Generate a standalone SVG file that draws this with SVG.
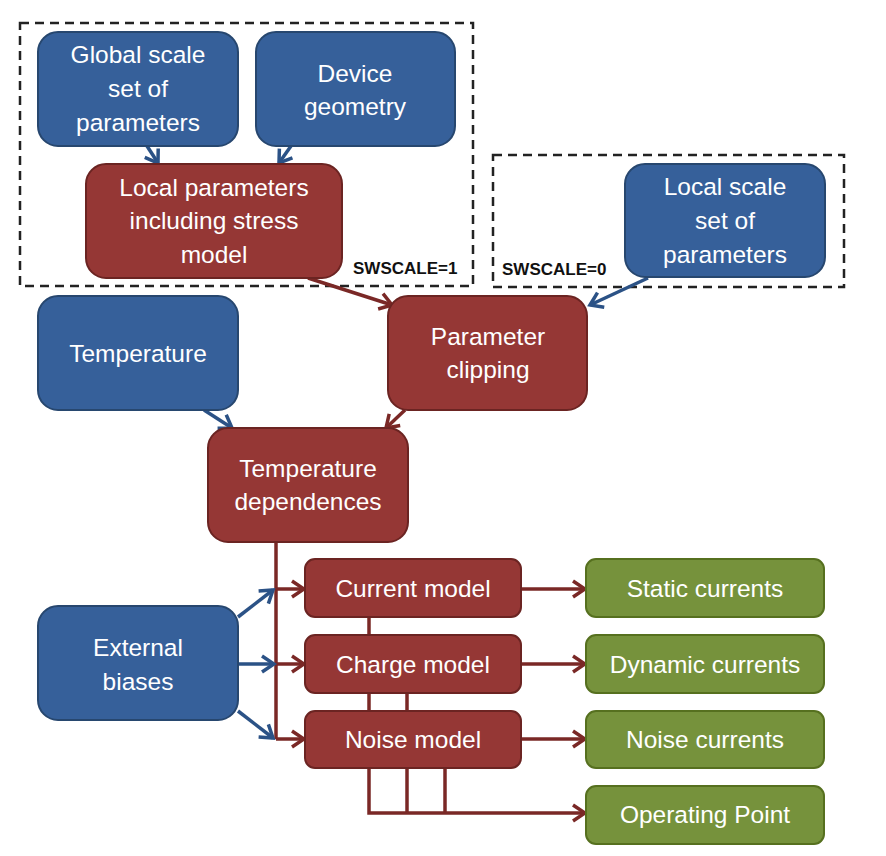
<svg xmlns="http://www.w3.org/2000/svg" width="886" height="856" viewBox="0 0 886 856">
<defs>
<style>
.b{fill:#36609A;stroke:#27476F;stroke-width:2}
.r{fill:#953735;stroke:#6B2422;stroke-width:2}
.g{fill:#76923C;stroke:#56701F;stroke-width:2}
.t{font-family:"Liberation Sans",Arial,sans-serif;font-size:24.5px;fill:#fff;text-anchor:middle}
.sw{font-family:"Liberation Sans",Arial,sans-serif;font-size:17px;font-weight:bold;fill:#111}
.dash{fill:none;stroke:#222;stroke-width:2.5;stroke-dasharray:9 6}
.cb{fill:none;stroke:#2B5286;stroke-width:3.5}
.cr{fill:none;stroke:#7A2826;stroke-width:3.5}
</style>
<marker id="ab" viewBox="0 0 18 20" refX="15" refY="10" markerWidth="18" markerHeight="20" markerUnits="userSpaceOnUse" orient="auto">
<path d="M3,2 L15,10 L3,18" fill="none" stroke="#2B5286" stroke-width="3.5"/>
</marker>
<marker id="ar" viewBox="0 0 18 20" refX="15" refY="10" markerWidth="18" markerHeight="20" markerUnits="userSpaceOnUse" orient="auto">
<path d="M3,2 L15,10 L3,18" fill="none" stroke="#7A2826" stroke-width="3.5"/>
</marker>
</defs>
<rect width="886" height="856" fill="#fff"/>
<g id="groups">
<rect class="dash" x="20" y="23" width="453" height="263"/>
<text class="sw" x="353" y="274">SWSCALE=1</text>
<rect class="dash" x="493" y="155" width="351" height="132"/>
<text class="sw" x="502" y="275">SWSCALE=0</text>
</g>
<g id="connectors">
<line class="cb" x1="147" y1="146" x2="158" y2="163" marker-end="url(#ab)"/>
<line class="cb" x1="291" y1="146" x2="279" y2="163" marker-end="url(#ab)"/>
<line class="cr" x1="308" y1="278" x2="392" y2="305" marker-end="url(#ar)"/>
<line class="cb" x1="648" y1="278" x2="590" y2="305" marker-end="url(#ab)"/>
<line class="cb" x1="204" y1="410" x2="232" y2="428" marker-end="url(#ab)"/>
<line class="cr" x1="405" y1="410" x2="386" y2="428" marker-end="url(#ar)"/>
<polyline class="cr" points="276,542 276,739"/>
<line class="cr" x1="276" y1="589" x2="304" y2="589" marker-end="url(#ar)"/>
<line class="cr" x1="276" y1="664" x2="304" y2="664" marker-end="url(#ar)"/>
<line class="cr" x1="276" y1="739" x2="304" y2="739" marker-end="url(#ar)"/>
<line class="cb" x1="238" y1="617" x2="273" y2="590" marker-end="url(#ab)"/>
<line class="cb" x1="238" y1="664" x2="274" y2="664" marker-end="url(#ab)"/>
<line class="cb" x1="238" y1="711" x2="273" y2="738" marker-end="url(#ab)"/>
<line class="cr" x1="521" y1="589" x2="585" y2="589" marker-end="url(#ar)"/>
<line class="cr" x1="521" y1="664" x2="585" y2="664" marker-end="url(#ar)"/>
<line class="cr" x1="521" y1="739" x2="585" y2="739" marker-end="url(#ar)"/>
<line class="cr" x1="369" y1="617" x2="369" y2="635"/>
<line class="cr" x1="369" y1="693" x2="369" y2="711"/>
<line class="cr" x1="407" y1="693" x2="407" y2="711"/>
<line class="cr" x1="407" y1="768" x2="407" y2="813"/>
<line class="cr" x1="445" y1="768" x2="445" y2="813"/>
<polyline class="cr" points="369,768 369,813 585,813" marker-end="url(#ar)"/>
</g>
<g id="global">
<rect class="b" x="38" y="32" width="200" height="114" rx="20"/>
<text class="t" x="138" y="63">Global scale</text>
<text class="t" x="138" y="97">set of</text>
<text class="t" x="138" y="131">parameters</text>
</g>
<g id="device">
<rect class="b" x="256" y="32" width="199" height="114" rx="20"/>
<text class="t" x="355" y="82">Device</text>
<text class="t" x="355" y="115">geometry</text>
</g>
<g id="localparams">
<rect class="r" x="86" y="164" width="256" height="114" rx="20"/>
<text class="t" x="214" y="196">Local parameters</text>
<text class="t" x="214" y="229">including stress</text>
<text class="t" x="214" y="263">model</text>
</g>
<g id="localscale">
<rect class="b" x="625" y="164" width="200" height="113" rx="20"/>
<text class="t" x="725" y="195">Local scale</text>
<text class="t" x="725" y="229">set of</text>
<text class="t" x="725" y="263">parameters</text>
</g>
<g id="temperature">
<rect class="b" x="38" y="296" width="200" height="114" rx="20"/>
<text class="t" x="138" y="362">Temperature</text>
</g>
<g id="clipping">
<rect class="r" x="388" y="296" width="199" height="114" rx="20"/>
<text class="t" x="488" y="345">Parameter</text>
<text class="t" x="488" y="378">clipping</text>
</g>
<g id="tempdep">
<rect class="r" x="208" y="428" width="200" height="114" rx="20"/>
<text class="t" x="308" y="477">Temperature</text>
<text class="t" x="308" y="510">dependences</text>
</g>
<g id="biases">
<rect class="b" x="38" y="606" width="200" height="114" rx="20"/>
<text class="t" x="138" y="656">External</text>
<text class="t" x="138" y="690">biases</text>
</g>
<g id="current">
<rect class="r" x="305" y="559" width="216" height="58" rx="10"/>
<text class="t" x="413" y="597">Current model</text>
</g>
<g id="charge">
<rect class="r" x="305" y="635" width="216" height="58" rx="10"/>
<text class="t" x="413" y="673">Charge model</text>
</g>
<g id="noise">
<rect class="r" x="305" y="711" width="216" height="57" rx="10"/>
<text class="t" x="413" y="748">Noise model</text>
</g>
<g id="static">
<rect class="g" x="586" y="559" width="238" height="58" rx="10"/>
<text class="t" x="705" y="597">Static currents</text>
</g>
<g id="dynamic">
<rect class="g" x="586" y="635" width="238" height="58" rx="10"/>
<text class="t" x="705" y="673">Dynamic currents</text>
</g>
<g id="noisecur">
<rect class="g" x="586" y="711" width="238" height="57" rx="10"/>
<text class="t" x="705" y="748">Noise currents</text>
</g>
<g id="oppoint">
<rect class="g" x="586" y="786" width="238" height="58" rx="10"/>
<text class="t" x="705" y="823">Operating Point</text>
</g>
</svg>
